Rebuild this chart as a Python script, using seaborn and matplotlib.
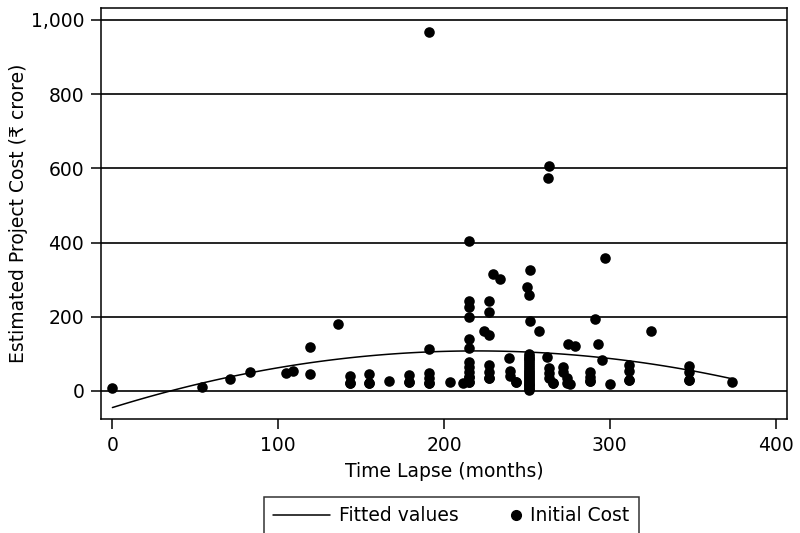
import numpy as np
import pandas as pd
import matplotlib
matplotlib.use("Agg")
import matplotlib.pyplot as plt
from matplotlib.lines import Line2D
from matplotlib.legend_handler import HandlerLine2D
import seaborn as sns

# Time lapse of each project (months); stacked clusters hold overlapping points
time_lapse = [
    0, 54, 71, 83, 105, 109, 119, 119, 136, 143.6, 143.6, 143.6, 155, 155, 155, 167,
    179, 179, 179, 191, 191, 191, 191, 191, 191, 203.5, 211.5,
    215, 215, 215, 215, 215, 215, 215, 215, 215, 215, 215, 215, 215,
    227, 227, 224, 227, 227, 227, 227, 227, 229.6, 234,
    239, 240, 240, 243.5, 243.5,
    252, 250, 251, 252, 257,
    251, 251, 251, 251, 251, 251, 251, 251, 251, 251, 251, 251,
    251, 251, 251, 251, 251, 251, 251, 251, 251, 251, 251, 251,
    263.5, 263, 262, 263.5, 263.5, 263.5, 265.8, 265.8,
    271.5, 272, 274, 274, 276, 275, 279,
    288, 288, 288, 288, 291, 293, 295, 297, 300,
    311.5, 311.5, 311.5, 311.5, 325, 348, 348, 348, 348, 374,
]

# Initial estimated cost of each project (Rs crore)
initial_cost = [
    9, 10, 31, 51, 48, 55, 119, 45, 181, 39, 21, 21, 45, 21, 21, 26,
    43, 24, 24, 968, 113, 48, 34, 22, 22, 24, 22,
    404, 243, 227, 200, 139, 115, 79, 65, 52, 38, 38, 25, 25,
    243, 212, 162, 151, 70, 52, 34, 34, 314, 301,
    88, 55, 40, 24, 24,
    326, 281, 259, 189, 162,
    100, 90, 80, 70, 60, 50, 42, 34, 26, 18, 12, 6,
    95, 85, 75, 65, 55, 46, 38, 30, 22, 15, 8, 3,
    606, 574, 91, 63, 48, 34, 21, 21,
    65, 50, 36, 21, 18, 126, 121,
    52, 38, 28, 28, 194, 126, 82, 358, 20,
    70, 55, 30, 30, 162, 68, 52, 30, 30, 25,
]

y_ticks = [0, 200, 400, 600, 800, 1000]
x_ticks = [0, 100, 200, 300, 400]

df = pd.DataFrame({"Time Lapse": time_lapse, "Initial Cost": initial_cost})

sns.set_style("white")
plt.rcParams["font.family"] = ["DejaVu Sans"]
plt.rcParams["text.color"] = "black"
plt.rcParams["axes.labelcolor"] = "black"
plt.rcParams["xtick.color"] = "black"
plt.rcParams["ytick.color"] = "black"


class DotAtRight(HandlerLine2D):
    """Legend handler that puts the marker at the right end of the handle."""

    def create_artists(self, legend, orig_handle, xdescent, ydescent,
                       width, height, fontsize, trans):
        artists = super().create_artists(legend, orig_handle, xdescent,
                                         ydescent, width, height, fontsize,
                                         trans)
        for a in artists:
            if a.get_marker() not in (None, "None", ""):
                a.set_xdata([width - xdescent - 0.25 * fontsize])
        return artists


fig = plt.figure(figsize=(8, 5.33), dpi=100)
ax = fig.add_axes([0.126, 0.214, 0.858, 0.771])

# Horizontal reference lines at each y tick
for yv in y_ticks:
    ax.axhline(yv, color="black", lw=1.2, zorder=0)

# Quadratic fit of cost on time lapse
sns.regplot(data=df, x="Time Lapse", y="Initial Cost", order=2, ci=None,
            scatter=False, truncate=True, ax=ax,
            line_kws={"color": "black", "lw": 1.1})

sns.scatterplot(data=df, x="Time Lapse", y="Initial Cost", ax=ax,
                color="black", s=58, edgecolor="black", linewidth=0, zorder=3)

ax.set_xlim(-7, 407)
ax.set_ylim(-75.5, 1032)
ax.set_xticks(x_ticks)
ax.set_yticks(y_ticks)
ax.set_yticklabels([f"{v:,}" for v in y_ticks])
ax.tick_params(axis="both", direction="out", length=7, width=1.1, pad=5,
               colors="black", labelcolor="black", labelsize=13.5,
               left=True, bottom=True)
for sp in ax.spines.values():
    sp.set_color("black")
    sp.set_linewidth(1.1)

ax.set_xlabel("Time Lapse (months)", fontsize=13.5, labelpad=5,
              color="black")
ax.set_ylabel("Estimated Project Cost (\u20b9 crore)", fontsize=13.5,
              labelpad=2, color="black")

line_handle = Line2D([], [], color="black", lw=1.1)
dot_handle = Line2D([], [], color="black", marker="o", lw=0, markersize=7)
leg = fig.legend([line_handle, dot_handle], ["Fitted values", "Initial Cost"],
                 ncol=2, loc="upper center", bbox_to_anchor=(0.564, 0.068),
                 borderaxespad=0, frameon=True, fancybox=False,
                 fontsize=13.5, handlelength=3.0, columnspacing=0.3,
                 handletextpad=0.5, borderpad=0.5,
                 handler_map={dot_handle: DotAtRight()})
leg.get_frame().set_edgecolor("black")
leg.get_frame().set_linewidth(1.1)
for t in leg.get_texts():
    t.set_color("black")

fig.savefig("out.png", dpi=100)
